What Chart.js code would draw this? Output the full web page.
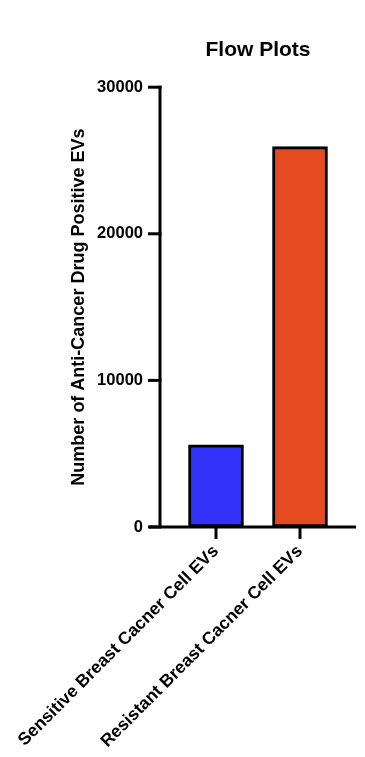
<!DOCTYPE html>
<html>
<head>
<meta charset="utf-8">
<title>Flow Plots</title>
<script src="https://cdn.jsdelivr.net/npm/chart.js@4/dist/chart.umd.min.js"></script>
<style>
  html, body { margin: 0; padding: 0; background: #fff; }
  #wrap { width: 365px; height: 757px; }
</style>
</head>
<body>
<div id="wrap"><canvas id="flowChart" width="365" height="757"></canvas></div>
<script>
const categories = [
  "Sensitive Breast Cacner Cell EVs",
  "Resistant Breast Cacner Cell EVs",
];
const positiveEVs = [5600, 25950];
const barColors = ["#3232fa", "#e64a21"];
const yTicks = [0, 10000, 20000, 30000];

const FONT = "'Liberation Sans', Arial, Helvetica, sans-serif";

// GraphPad style axes: y line sits a bit left of the first bar slot,
// x line runs past both ends
const prismAxes = {
  id: "prismAxes",
  afterDatasetsDraw(chart) {
    const { ctx, chartArea, scales } = chart;
    const x = scales.x;
    const y = scales.y;
    const axisX = chartArea.left - 14;
    const zeroY = y.getPixelForValue(0);
    const topY = y.getPixelForValue(yTicks[yTicks.length - 1]);

    ctx.save();
    ctx.strokeStyle = "#000";
    ctx.lineWidth = 3;
    ctx.lineCap = "butt";

    ctx.beginPath();
    ctx.moveTo(axisX, topY - 1.5);
    ctx.lineTo(axisX, zeroY);
    ctx.stroke();

    ctx.beginPath();
    ctx.moveTo(axisX - 11, zeroY);
    ctx.lineTo(chartArea.right + 14, zeroY);
    ctx.stroke();

    yTicks.forEach((v) => {
      const py = y.getPixelForValue(v);
      ctx.beginPath();
      ctx.moveTo(axisX - 12, py);
      ctx.lineTo(axisX + 1.5, py);
      ctx.stroke();
    });

    categories.forEach((c, i) => {
      const px = x.getPixelForValue(i);
      ctx.beginPath();
      ctx.moveTo(px, zeroY);
      ctx.lineTo(px, zeroY + 12);
      ctx.stroke();
    });
    ctx.restore();
  },
};

const ctx = document.getElementById("flowChart").getContext("2d");
new Chart(ctx, {
  type: "bar",
  data: {
    labels: categories,
    datasets: [
      {
        data: positiveEVs,
        backgroundColor: barColors,
        borderColor: "#000",
        borderWidth: 3,
        borderSkipped: false,
        barThickness: 55,
      },
    ],
  },
  options: {
    responsive: false,
    animation: false,
    devicePixelRatio: 1,
    layout: { padding: { left: 0, right: 23, top: 0, bottom: 0 } },
    plugins: {
      legend: { display: false },
      tooltip: { enabled: false },
      title: {
        display: true,
        fullSize: false,
        text: "Flow Plots",
        color: "#000",
        font: { family: FONT, size: 21, weight: "bold" },
        padding: { top: 38, bottom: 24 },
      },
    },
    scales: {
      x: {
        offset: true,
        grid: { display: false, drawTicks: false },
        border: { display: false },
        ticks: {
          autoSkip: false,
          maxRotation: 45,
          minRotation: 45,
          padding: 14,
          color: "#000",
          font: { family: FONT, size: 17.5, weight: "bold" },
        },
        afterFit(scale) {
          scale.height = 230;
          scale.paddingLeft = 0;
          scale.paddingRight = 0;
        },
      },
      y: {
        min: 0,
        max: 30000,
        grid: { display: false, drawTicks: false },
        border: { display: false },
        afterBuildTicks(scale) {
          scale.ticks = yTicks.map((v) => ({ value: v }));
        },
        ticks: {
          padding: 31,
          color: "#000",
          font: { family: FONT, size: 16.5, weight: "bold" },
          callback: (v) => String(v),
        },
        title: {
          display: true,
          text: "Number of Anti-Cancer Drug Positive EVs",
          color: "#000",
          font: { family: FONT, size: 18, weight: "bold" },
          padding: { top: 68, bottom: 0 },
        },
        afterFit(scale) {
          scale.width = 174;
        },
      },
    },
  },
  plugins: [prismAxes],
});
</script>
</body>
</html>
